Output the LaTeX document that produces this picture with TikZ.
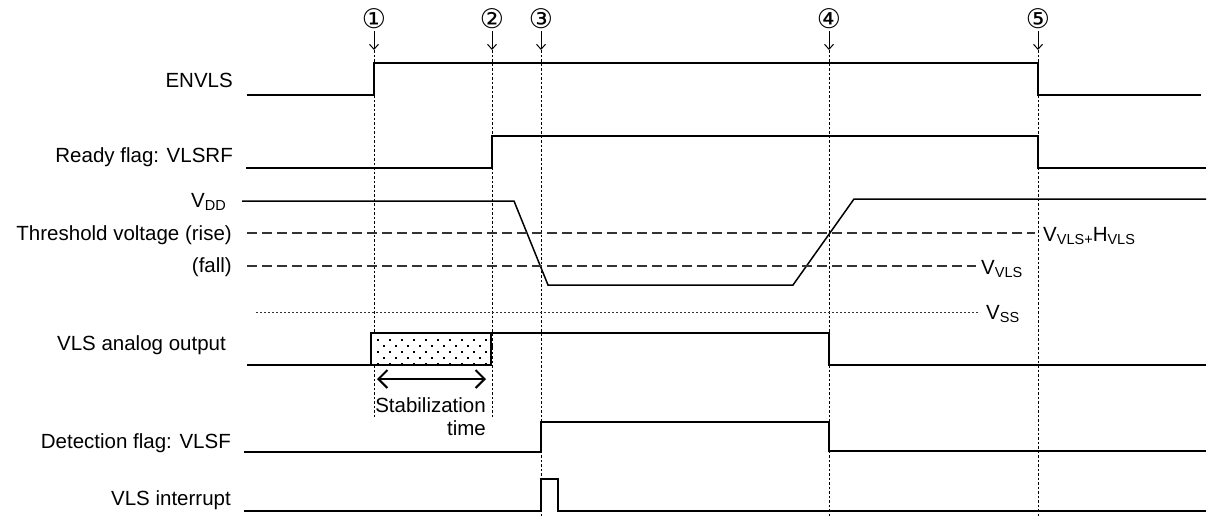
\documentclass[tikz,border=0pt]{standalone}
\usepackage{fontspec}
\setmainfont{Liberation Sans}
\newfontfamily\symfont{DejaVu Sans}
\usetikzlibrary{arrows.meta}
\begin{document}
\begin{tikzpicture}[x=1pt,y=-1pt,
  sig/.style={line width=1.5pt,black},
  vmark/.style={line width=1pt,dash pattern=on 2.5pt off 2pt},
  thr/.style={line width=1.5pt,dash pattern=on 10pt off 5pt,black!80},
  vss/.style={line width=1pt,dash pattern=on 2pt off 2pt,black!80},
  lbl/.style={anchor=base east,font=\fontsize{20.5}{22}\selectfont,inner sep=0pt},
  rlbl/.style={anchor=base west,font=\fontsize{20.5}{22}\selectfont,inner sep=0pt},
  num/.style={font=\symfont\fontsize{27}{28}\selectfont,inner sep=0pt},
  tickarrow/.style={line width=1pt,-{Straight Barb[length=5pt,width=9pt,line width=1pt]}}]
\useasboundingbox (0,0) rectangle (1208,517);

% left labels
\node[lbl] (lenv) at (233,87) {ENVLS};
\node[lbl] (lrdy) at (233,162) {Ready flag: VLSRF};
\node[lbl] (lvdd) at (226,207) {V\raisebox{-0.3ex}{\fontsize{14.5}{16}\selectfont DD}};
\node[lbl] (lthr) at (232,240) {Threshold voltage (rise)};
\node[lbl] (lfal) at (232,272) {(fall)};
\node[lbl] (lana) at (226,350) {VLS analog output};
\node[lbl] (ldet) at (231,448) {Detection flag: VLSF};
\node[lbl] (lint) at (231,505) {VLS interrupt};

% right labels
\node[rlbl] (rvh) at (1043,241) {V\raisebox{-0.3ex}{\fontsize{14.5}{16}\selectfont VLS+}H\raisebox{-0.3ex}{\fontsize{14.5}{16}\selectfont VLS}};
\node[rlbl] (rv) at (981,274) {V\raisebox{-0.3ex}{\fontsize{14.5}{16}\selectfont VLS}};
\node[rlbl] (rss) at (986,319) {V\raisebox{-0.3ex}{\fontsize{14.5}{16}\selectfont SS}};

% markers
\foreach \n/\x/\yb in {1/374/418,2/492/418,3/541/517,4/829/517,5/1038/517}{
  \node[num] (n\n) at (\x,19) {\ifcase\n\or①\or②\or③\or④\or⑤\fi};
  \coordinate (t\n) at (\x,50);
  \coordinate (b\n) at (\x,\yb);
  \draw[tickarrow] (\x,31) -- (t\n);
  \draw[vmark] (t\n) -- (b\n);
}

% ENVLS
\draw[sig] (247,95) -- (374,95) -- (374,63) -- (1038,63) -- (1038,95) -- (1201,95);
% Ready flag
\draw[sig] (246,168) -- (492,168) -- (492,136) -- (1038,136) -- (1038,168) -- (1206,168);
% VDD
\draw[sig] (242,201) -- (514,201) -- (548,285) -- (793,285) -- (854,199) -- (1206,199);
% thresholds
\draw[thr] (247,233) -- (1035,233);
\draw[thr] (247,266) -- (976,266);
\draw[vss] (256,312) -- (980,312);
% analog output
\fill[white] (371,333) rectangle (491,365);
\foreach \r in {0,...,4}{
  \pgfmathsetmacro{\off}{mod(\r,2)*6}
  \foreach \c in {0,...,9}{
    \fill (377+\off+\c*12,338.5+\r*6) rectangle ++(2,2);
  }
}
\draw[line width=2pt] (371,333) rectangle (491,365);
\draw[sig] (247,365) -- (371,365);
\draw[sig] (491,333) -- (829,333) -- (829,365) -- (1206,365);
\draw[line width=2pt,{Straight Barb[length=9pt,width=18pt,line width=2pt]}-{Straight Barb[length=9pt,width=18pt,line width=2pt]}] (377,379) -- (486,379);
\node[lbl] (stab) at (486,412) {Stabilization};
\node[lbl] (stime) at (486,435) {time};
% detection flag
\draw[sig] (244,452) -- (541,452) -- (541,422) -- (829,422) -- (829,451) -- (1206,451);
% interrupt
\draw[sig] (244,511) -- (541,511) -- (541,479) -- (558,479) -- (558,511) -- (1206,511);
\end{tikzpicture}
\end{document}
